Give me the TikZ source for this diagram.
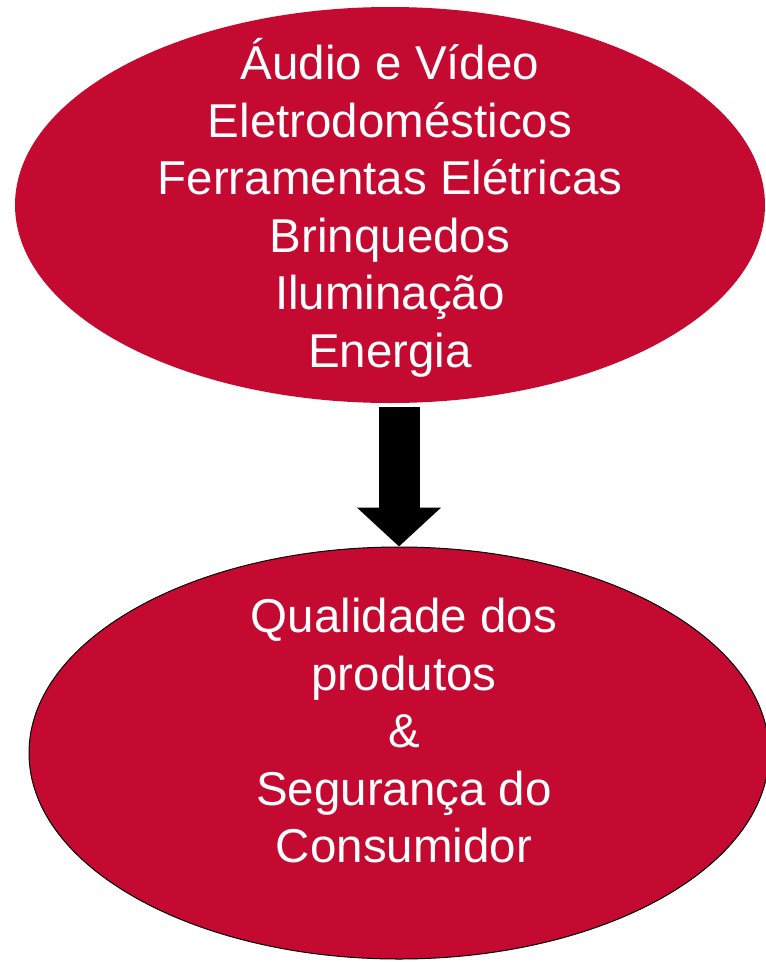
\documentclass[tikz,border=0pt]{standalone}
\usepackage{fontspec}
\setmainfont{Liberation Sans}
\usetikzlibrary{shapes.geometric,arrows.meta}
\definecolor{crimson}{RGB}{197,10,50}
\begin{document}
\begin{tikzpicture}[x=1pt,y=-1pt,
		blob/.style={ellipse, fill=crimson, inner sep=0pt},
		words/.style={text=white, align=center, font=\fontsize{47.5}{57.5}\selectfont},
		bigarrow/.style={line width=41pt, -{Triangle[width=82pt,length=39pt]}}]
			\useasboundingbox (0,0) rectangle (766,962);
			\node (top) [blob, minimum width=750pt, minimum height=396pt] at (390,205) {};
			\node (bot) [blob, draw=black, line width=1pt, minimum width=740pt, minimum height=412pt] at (399,753) {};
			\node (toptext) [words] at (390,208) {Áudio e Vídeo\\Eletrodomésticos\\Ferramentas Elétricas\\Brinquedos\\Iluminação\\Energia};
			\node (bottext) [words] at (404,731) {Qualidade dos\\produtos\\\&\\Segurança do\\Consumidor};
			\draw[bigarrow] ([yshift=-4pt]top.south -| bot.north) -- (bot.north);
		\end{tikzpicture}
\end{document}
